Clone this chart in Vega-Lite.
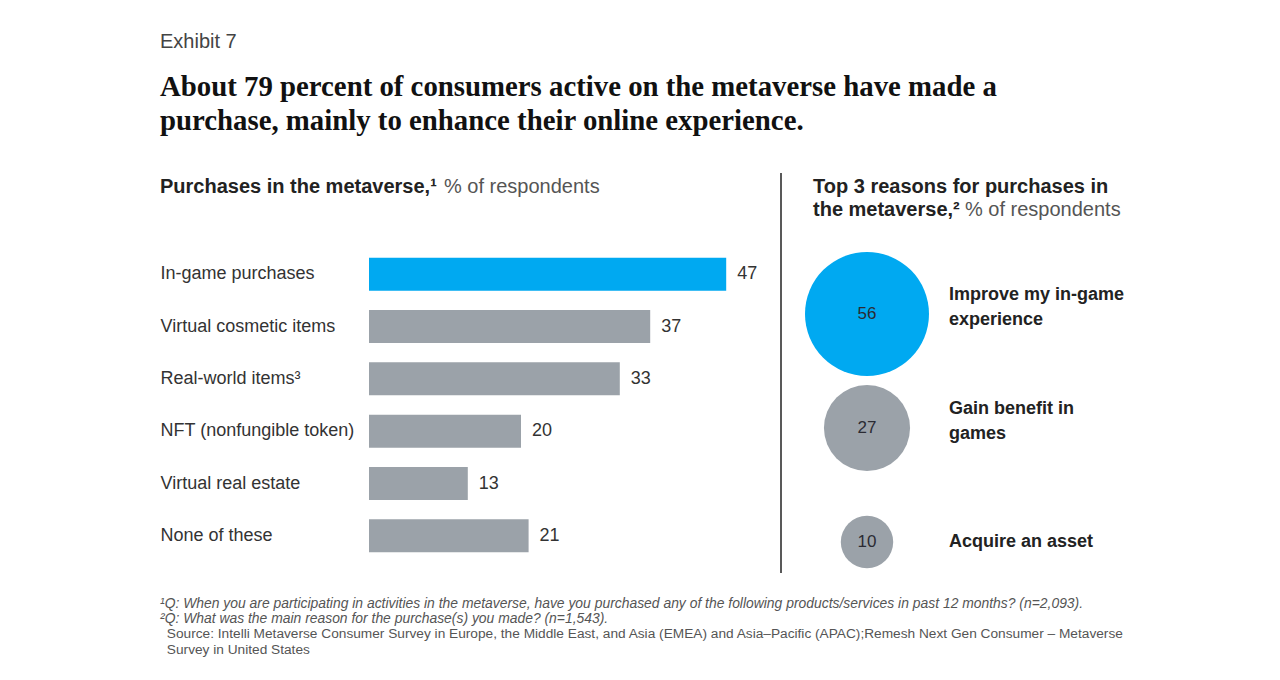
{
  "$schema": "https://vega.github.io/schema/vega-lite/v6.json",
  "background": "white",
  "padding": {"left": 160, "top": 31, "right": 10, "bottom": 5},
  "config": {
    "view": {"stroke": null},
    "font": "Liberation Sans",
    "concat": {"spacing": 22}
  },
  "title": {
    "text": "Exhibit 7",
    "subtitle": ["About 79 percent of consumers active on the metaverse have made a", "purchase, mainly to enhance their online experience."],
    "anchor": "start",
    "frame": "bounds",
    "font": "Liberation Sans",
    "fontSize": 20,
    "fontWeight": "normal",
    "color": "#444",
    "subtitleFont": "Liberation Serif",
    "subtitleFontSize": 28.8,
    "subtitleFontWeight": "bold",
    "subtitleColor": "#111",
    "subtitleLineHeight": 34,
    "subtitlePadding": 21.5,
    "offset": 36
  },
  "vconcat": [
    {
      "title": {
        "text": [
          "¹Q: When you are participating in activities in the metaverse, have you purchased any of the following products/services in past 12 months? (n=2,093).",
          "²Q: What was the main reason for the purchase(s) you made? (n=1,543)."
        ],
        "subtitle": [
          "\u200B\u2002Source: Intelli Metaverse Consumer Survey in Europe, the Middle East, and Asia (EMEA) and Asia–Pacific (APAC);Remesh Next Gen Consumer – Metaverse",
          "\u200B\u2002Survey in United States"
        ],
        "orient": "bottom",
        "anchor": "start",
        "frame": "bounds",
        "fontSize": 13.9,
        "fontStyle": "italic",
        "fontWeight": "normal",
        "color": "#555",
        "lineHeight": 15,
        "subtitleFontSize": 13.7,
        "subtitleColor": "#555",
        "subtitleLineHeight": 16,
        "subtitlePadding": 1,
        "offset": 23
      },
      "hconcat": [
        {
          "width": 380,
          "height": 314,
          "title": {
            "text": "Purchases in the metaverse,¹",
            "subtitle": "\u200B\u2003\u2003\u2003\u2003\u2003\u2003\u2003\u2003\u2003\u2003\u2003\u2003\u2003\u2003\u2009% of respondents",
            "anchor": "start",
            "frame": "bounds",
            "fontSize": 20,
            "fontWeight": "bold",
            "color": "#222",
            "subtitleFontSize": 20,
            "subtitleColor": "#555",
            "subtitlePadding": -20,
            "offset": 51
          },
          "data": {
            "values": [
              {"item": "In-game purchases", "pct": 47},
              {"item": "Virtual cosmetic items", "pct": 37},
              {"item": "Real-world items³", "pct": 33},
              {"item": "NFT (nonfungible token)", "pct": 20},
              {"item": "Virtual real estate", "pct": 13},
              {"item": "None of these", "pct": 21}
            ]
          },
          "encoding": {
            "y": {
              "field": "item",
              "type": "nominal",
              "sort": null,
              "scale": {"paddingInner": 0.37, "paddingOuter": 0.185},
              "axis": {
                "title": null,
                "domain": false,
                "ticks": false,
                "labelAlign": "left",
                "labelPadding": 209,
                "labelFontSize": 18,
                "labelColor": "#333",
                "labelLimit": 400
              }
            },
            "x": {
              "field": "pct",
              "type": "quantitative",
              "scale": {"domain": [0, 50]},
              "axis": null
            }
          },
          "layer": [
            {
              "mark": {"type": "bar"},
              "encoding": {
                "color": {
                  "condition": {"test": "datum.item === 'In-game purchases'", "value": "#00A9F1"},
                  "value": "#9BA2A9"
                }
              }
            },
            {
              "mark": {"type": "text", "align": "left", "dx": 11, "fontSize": 18, "color": "#333"},
              "encoding": {"text": {"field": "pct", "type": "quantitative"}}
            }
          ]
        },
        {
          "width": 2,
          "height": 314,
          "data": {"values": [{}]},
          "mark": {"type": "rule", "color": "#222", "strokeWidth": 1.5},
          "encoding": {
            "x": {"datum": 0, "type": "quantitative", "scale": {"domain": [0, 1]}, "axis": null},
            "y": {"datum": 0, "type": "quantitative", "scale": {"domain": [0, 1], "range": [325, -75]}, "axis": null},
            "y2": {"datum": 1}
          }
        },
        {
          "width": 108,
          "height": 314,
          "title": {
            "text": ["Top 3 reasons for purchases in", "the metaverse,²"],
            "subtitle": "\u200B\u2003\u2003\u2003\u2003\u2003\u2003\u2003\u2009\u2009\u2009% of respondents",
            "anchor": "start",
            "frame": "group",
            "fontSize": 20,
            "fontWeight": "bold",
            "color": "#222",
            "lineHeight": 23,
            "subtitleFontSize": 20,
            "subtitleColor": "#555",
            "subtitlePadding": -20,
            "offset": 28
          },
          "data": {
            "values": [
              {"reason": "Improve my in-game\nexperience", "pct": 56},
              {"reason": "Gain benefit in\ngames", "pct": 27},
              {"reason": "Acquire an asset", "pct": 10}
            ]
          },
          "encoding": {
            "y": {
              "field": "reason",
              "type": "nominal",
              "sort": null,
              "scale": {"type": "point", "padding": 0.377, "align": 0.767},
              "axis": null
            }
          },
          "layer": [
            {
              "mark": {"type": "circle", "opacity": 1},
              "encoding": {
                "size": {
                  "field": "pct",
                  "type": "quantitative",
                  "scale": {"type": "linear", "domain": [0, 56], "range": [0, 15376]},
                  "legend": null
                },
                "color": {
                  "condition": {"test": "datum.pct === 56", "value": "#00A9F1"},
                  "value": "#9BA2A9"
                }
              }
            },
            {
              "mark": {"type": "text", "fontSize": 17, "color": "#2b2b33"},
              "encoding": {"text": {"field": "pct", "type": "quantitative"}}
            },
            {
              "transform": [{"filter": "indexof(datum.reason, '\\n') >= 0"}],
              "mark": {"type": "text", "align": "left", "dx": 82, "dy": -19, "fontSize": 18, "fontWeight": "bold", "color": "#222", "lineBreak": "\n", "lineHeight": 25},
              "encoding": {"text": {"field": "reason", "type": "nominal"}}
            },
            {
              "transform": [{"filter": "indexof(datum.reason, '\\n') < 0"}],
              "mark": {"type": "text", "align": "left", "dx": 82, "fontSize": 18, "fontWeight": "bold", "color": "#222"},
              "encoding": {"text": {"field": "reason", "type": "nominal"}}
            }
          ]
        }
      ]
    }
  ]
}
